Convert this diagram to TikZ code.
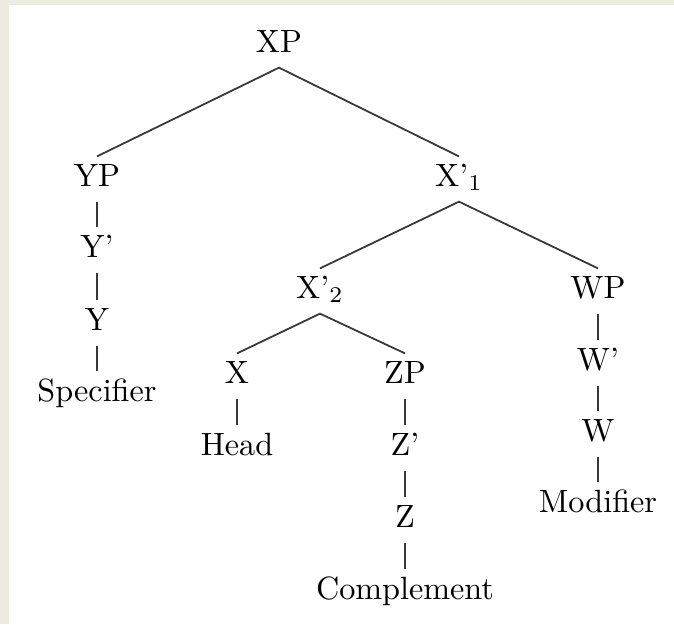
\documentclass[tikz,border=0pt]{standalone}
\begin{document}
\begin{tikzpicture}[x=0.3106pt,y=-0.3106pt,
  lbl/.style={anchor=base,inner xsep=0pt,inner ysep=2pt,text height=7pt,text depth=2.66pt},
  br/.style={draw=black!78,line width=0.55pt}]
\definecolor{frame}{RGB}{237,234,224}
\fill[frame] (0,0) rectangle (674,624);
\fill[white] (9,5) rectangle (674,624);
\useasboundingbox (0,0) rectangle (674,624);
% nodes (x, baseline)
\node[lbl] (xp)   at (279,52)  {XP};
\node[lbl] (yp)   at (97,186)  {YP};
\node[lbl] (x1)   at (459,186) {X'$_1$};
\node[lbl] (yb)   at (97,257)  {Y'};
\node[lbl] (y)    at (97,330)  {Y};
\node[lbl] (spec) at (97,401)  {Specifier};
\node[lbl] (x2)   at (320,298) {X'$_2$};
\node[lbl] (wp)   at (598,298) {WP};
\node[lbl] (x)    at (237,383) {X};
\node[lbl] (zp)   at (405,383) {ZP};
\node[lbl] (head) at (237,455) {Head};
\node[lbl] (zb)   at (405,455) {Z'};
\node[lbl] (z)    at (405,527) {Z};
\node[lbl] (comp) at (405,599) {Complement};
\node[lbl] (wb)   at (598,370) {W'};
\node[lbl] (w)    at (598,441) {W};
\node[lbl] (mod)  at (598,512) {Modifier};
% branches
\draw[br] (yp.north) -- (xp.south) -- (x1.north);
\draw[br] (yp.south) -- (yb.north);
\draw[br] (yb.south) -- (y.north);
\draw[br] (y.south) -- (spec.north);
\draw[br] (x2.north) -- (x1.south) -- (wp.north);
\draw[br] (x.north) -- (x2.south) -- (zp.north);
\draw[br] (x.south) -- (head.north);
\draw[br] (zp.south) -- (zb.north);
\draw[br] (zb.south) -- (z.north);
\draw[br] (z.south) -- (comp.north);
\draw[br] (wp.south) -- (wb.north);
\draw[br] (wb.south) -- (w.north);
\draw[br] (w.south) -- (mod.north);
\end{tikzpicture}
\end{document}
